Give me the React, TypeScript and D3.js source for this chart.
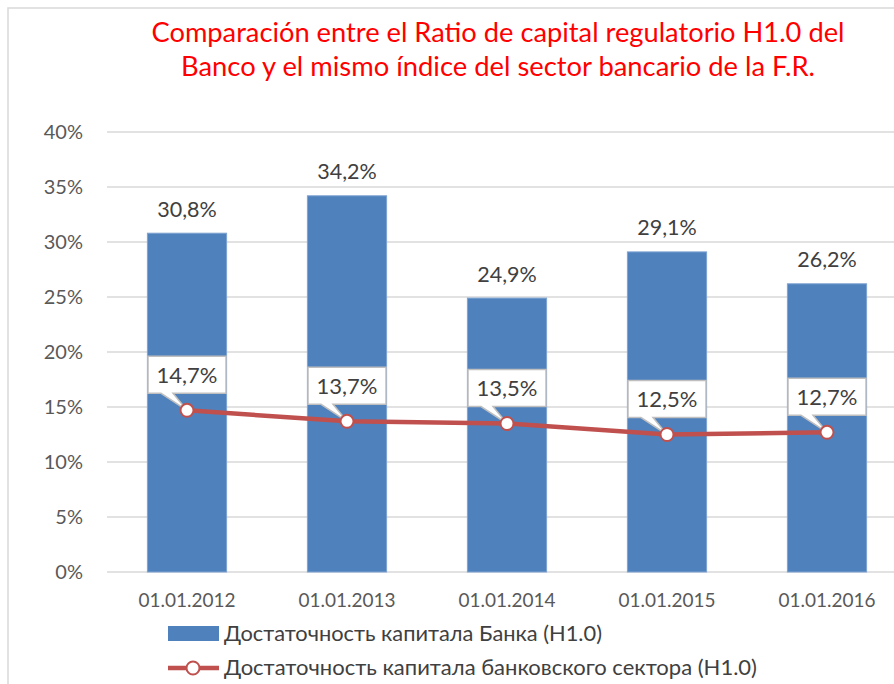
import React from "react";
import * as d3 from "d3";

const categories = ["01.01.2012", "01.01.2013", "01.01.2014", "01.01.2015", "01.01.2016"];
const bankValues = [30.8, 34.2, 24.9, 29.1, 26.2];
const sectorValues = [14.7, 13.7, 13.5, 12.5, 12.7];
const yTicks = [0, 5, 10, 15, 20, 25, 30, 35, 40];
const titleLines = [
  "Comparación entre el Ratio de capital regulatorio H1.0 del",
  "Banco y el mismo índice del sector bancario de la F.R.",
];
const legendLabels = [
  "Достаточность капитала Банка (H1.0)",
  "Достаточность капитала банковского сектора (H1.0)",
];

const W = 894;
const H = 684;
const FONT = "Lato, 'Open Sans', sans-serif";
const fmt = (v: number) => v.toFixed(1).replace(".", ",") + "%";

export default function App() {
  const x = d3.scaleBand<string>().domain(categories).range([107, 907]).paddingInner(0.505).paddingOuter(0.2525);
  const y = d3.scaleLinear().domain([0, 40]).range([572, 132]);
  const cx = (c: string) => (x(c) as number) + x.bandwidth() / 2;
  const line = d3
    .line<number>()
    .x((_, i) => cx(categories[i]))
    .y((d) => y(d));

  const titleLens = [693, 634];
  const legendLens = [378, 533];

  return (
    <svg
      width={W}
      height={H}
      style={{ position: "absolute", left: 0, top: 0, background: "#fff" }}
      fontFamily={FONT}
    >
      <rect x={8} y={8} width={W + 20} height={H + 20} fill="#fff" stroke="#d9d9d9" strokeWidth={1.5} />
      {titleLines.map((t, i) => (
        <text
          key={i}
          x={498}
          y={42 + i * 34}
          textAnchor="middle"
          fontSize={26}
          fill="#ff0000"
          textLength={titleLens[i]}
          lengthAdjust="spacingAndGlyphs"
        >
          {t}
        </text>
      ))}
      {yTicks.map((t) => (
        <g key={t}>
          <line x1={107} x2={W + 10} y1={y(t)} y2={y(t)} stroke="#d9d9d9" strokeWidth={1.5} />
          <text x={83} y={y(t)} dy="0.35em" textAnchor="end" fontSize={20} fill="#595959">
            {t + "%"}
          </text>
        </g>
      ))}
      {categories.map((c, i) => (
        <g key={c}>
          <rect
            x={x(c)}
            y={y(bankValues[i])}
            width={x.bandwidth()}
            height={y(0) - y(bankValues[i])}
            fill="#4f81bd"
            stroke="#7ea3d2"
            strokeWidth={1}
          />
          <text x={cx(c)} y={y(bankValues[i]) - 24} dy="0.35em" textAnchor="middle" fontSize={21.5} fill="#404040">
            {fmt(bankValues[i])}
          </text>
          <text x={cx(c)} y={600} dy="0.35em" textAnchor="middle" fontSize={19} fill="#595959">
            {c}
          </text>
        </g>
      ))}
      <path d={line(sectorValues) || ""} fill="none" stroke="#c0504d" strokeWidth={4.5} />
      {categories.map((c, i) => {
        const px = cx(c);
        const py = y(sectorValues[i]);
        const bw = 78;
        const bh = 37;
        const bottom = py - 17;
        const left = px - bw / 2;
        const top = bottom - bh;
        const d = `M${left},${top} H${left + bw} V${bottom} H${px - 14} L${px},${py} L${px - 26},${bottom} H${left} Z`;
        return (
          <g key={"m" + c}>
            <path d={d} fill="#fff" stroke="#bfbfbf" strokeWidth={1.5} />
            <circle cx={px} cy={py} r={6.5} fill="#fff" stroke="#c0504d" strokeWidth={2} />
            <text x={px} y={top + bh / 2} dy="0.35em" textAnchor="middle" fontSize={22} fill="#404040">
              {fmt(sectorValues[i])}
            </text>
          </g>
        );
      })}
      <rect x={168} y={626} width={51} height={15} fill="#4f81bd" />
      <text
        x={224}
        y={634}
        dy="0.35em"
        fontSize={21}
        fill="#404040"
        textLength={legendLens[0]}
        lengthAdjust="spacingAndGlyphs"
      >
        {legendLabels[0]}
      </text>
      <line x1={168} x2={219} y1={668} y2={668} stroke="#c0504d" strokeWidth={4.5} />
      <circle cx={193} cy={668} r={6.5} fill="#fff" stroke="#c0504d" strokeWidth={2} />
      <text
        x={224}
        y={668}
        dy="0.35em"
        fontSize={21}
        fill="#404040"
        textLength={legendLens[1]}
        lengthAdjust="spacingAndGlyphs"
      >
        {legendLabels[1]}
      </text>
    </svg>
  );
}
